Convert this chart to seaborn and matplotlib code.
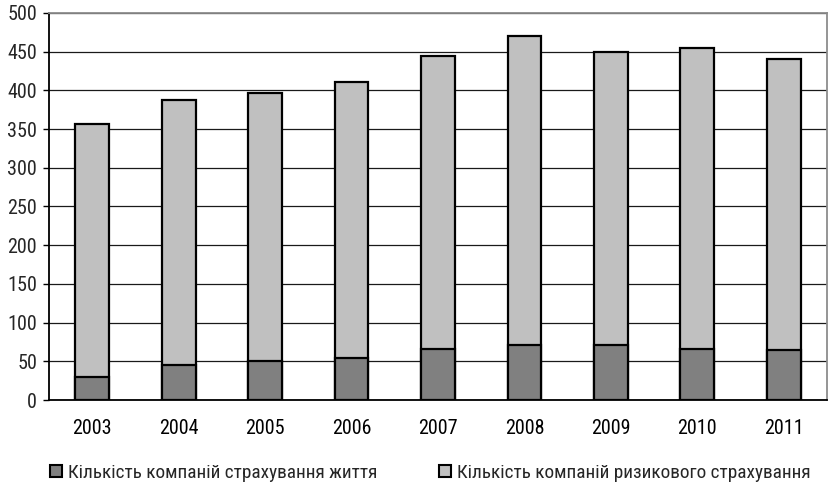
import matplotlib
matplotlib.use("Agg")
import matplotlib.pyplot as plt
from matplotlib.patches import Patch
from matplotlib.ticker import MultipleLocator, FixedLocator
import seaborn as sns
import pandas as pd
import numpy as np

years = ["2003", "2004", "2005", "2006", "2007", "2008", "2009", "2010", "2011"]
life_companies = [30, 45, 50, 54, 66, 71, 71, 66, 64]
risk_companies = [326, 343, 347, 357, 379, 399, 379, 389, 376]
label_life = "Кількість компаній страхування життя"
label_risk = "Кількість компаній ризикового страхування"

sns.set_style("white")
plt.rcParams["font.family"] = ["Roboto Condensed", "DejaVu Sans"]

df = pd.DataFrame({
    "year": years,
    "life": life_companies,
    "risk": risk_companies,
})
df["total"] = df["life"] + df["risk"]

fig = plt.figure(figsize=(8.34, 4.86), dpi=100)
ax = fig.add_axes([49 / 834, 1 - 400 / 486, 778 / 834, 387 / 486])

ax.set_axisbelow(True)
ax.yaxis.grid(True, color="#1a1a1a", linewidth=0.9)
ax.xaxis.grid(False)

# stacked bars: full height in light grey, life insurers drawn over the base
sns.barplot(data=df, x="year", y="total", color="#c0c0c0", edgecolor="black",
            linewidth=1.6, width=0.39, saturation=1, ax=ax, zorder=3)
sns.barplot(data=df, x="year", y="life", color="#808080", edgecolor="black",
            linewidth=1.6, width=0.39, saturation=1, ax=ax, zorder=4)

ax.set_xlim(-0.5, len(years) - 0.5)
ax.set_ylim(0, 500)
ax.yaxis.set_major_locator(MultipleLocator(50))
ax.set_xlabel("")
ax.set_ylabel("")

ax.xaxis.set_minor_locator(FixedLocator(np.arange(-0.5, len(years), 1.0)))
ax.tick_params(axis="x", which="major", length=0, pad=14, labelsize=14.5, colors="black")
ax.tick_params(axis="x", which="minor", length=4.5, width=1, color="black", direction="out")
ax.tick_params(axis="y", which="major", length=4.5, width=1, color="black", direction="out",
               pad=4, labelsize=14.5, left=True)

for side in ["left", "bottom"]:
    ax.spines[side].set_color("black")
    ax.spines[side].set_linewidth(1.3)
for side in ["top", "right"]:
    ax.spines[side].set_visible(True)
    ax.spines[side].set_color("#8c8c8c")
    ax.spines[side].set_linewidth(1.3)

handles = [
    Patch(facecolor="#808080", edgecolor="black", linewidth=1.5, label=label_life),
    Patch(facecolor="#c0c0c0", edgecolor="black", linewidth=1.5, label=label_risk),
]
fig.legend(handles=handles, loc="center left", bbox_to_anchor=(50 / 834, 1 - 473 / 486),
           ncol=2, frameon=False, fontsize=13.9, handlelength=0.62, handleheight=0.62,
           handletextpad=0.3, columnspacing=3.2, borderpad=0, borderaxespad=0)

fig.savefig("out.png", dpi=100)
